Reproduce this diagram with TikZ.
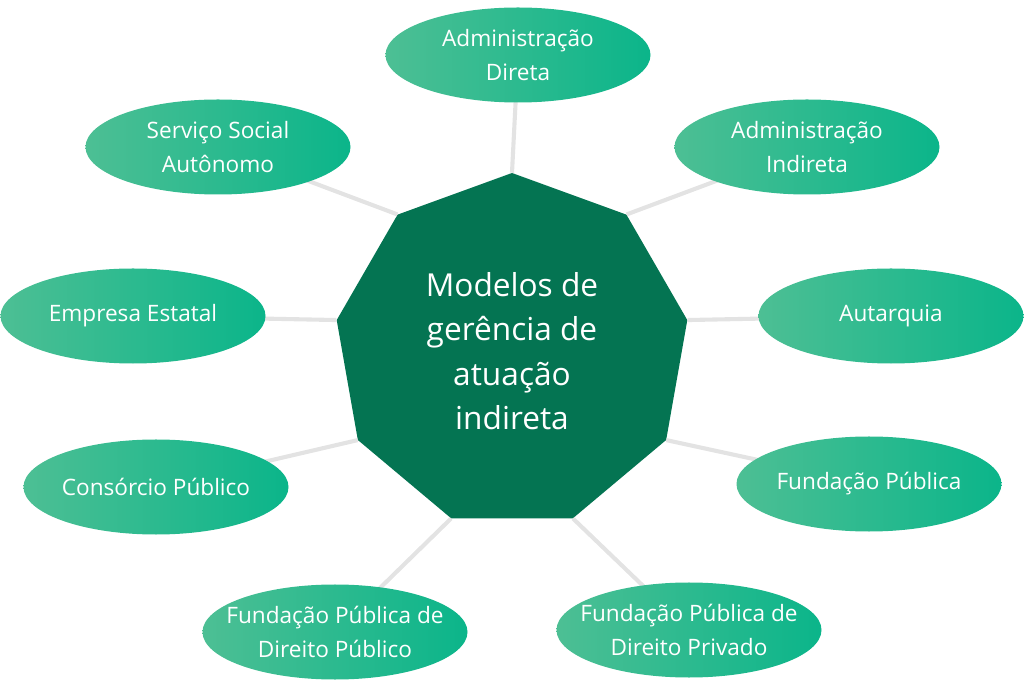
\documentclass[tikz,border=0pt]{standalone}
\usepackage{fontspec}
\setmainfont{Open Sans}
\usetikzlibrary{shapes.geometric}
\definecolor{hub}{HTML}{047452}
\definecolor{leafl}{HTML}{4DBF94}
\definecolor{leafr}{HTML}{0BB58A}
\definecolor{spoke}{HTML}{E3E3E3}
\begin{document}
\begin{tikzpicture}
    [x=0.03cm,y=-0.03cm,
     leaf/.style={ellipse,minimum width=7.95cm,minimum height=2.85cm,
       inner xsep=-30pt,inner ysep=0pt,
       left color=leafl,right color=leafr,draw=none,text=white,align=center,
       font=\fontsize{19.3}{29}\selectfont},
     spk/.style={draw=spoke,line width=3.5pt}]
    \useasboundingbox (0,0) rectangle (1024,683);
    \node (hub) at (512,351) [regular polygon,regular polygon sides=9,minimum size=10.68cm,
       inner sep=0pt,fill=hub,text=white,align=center,
       font=\fontsize{27}{38}\selectfont] {Modelos de\\gerência de\\atuação\\indireta};
    \coordinate (l1) at (518,55);
    \coordinate (l2) at (807,147);
    \coordinate (l3) at (891,316);
    \coordinate (l4) at (869,484);
    \coordinate (l5) at (689,630);
    \coordinate (l6) at (335,632);
    \coordinate (l7) at (156,487);
    \coordinate (l8) at (133,316);
    \coordinate (l9) at (218,147);
    \draw [spk] (hub.corner 1) to (l1);
    \draw [spk] (hub.corner 9) to (l2);
    \draw [spk] (hub.corner 8) to (l3);
    \draw [spk] (hub.corner 7) to (l4);
    \draw [spk] (hub.corner 6) to (l5);
    \draw [spk] (hub.corner 5) to (l6);
    \draw [spk] (hub.corner 4) to (l7);
    \draw [spk] (hub.corner 3) to (l8);
    \draw [spk] (hub.corner 2) to (l9);
    \node (admdir) at (l1) [leaf] {Administração\\Direta};
    \node (admind) at (l2) [leaf] {Administração\\Indireta};
    \node (autarq) at (l3) [leaf] {Autarquia};
    \node (fundpub) at (l4) [leaf] {Fundação Pública};
    \node (fundpriv) at (l5) [leaf] {Fundação Pública de\\Direito Privado};
    \node (funddpub) at (l6) [leaf] {Fundação Pública de\\Direito Público};
    \node (consorc) at (l7) [leaf] {Consórcio Público};
    \node (empresa) at (l8) [leaf] {Empresa Estatal};
    \node (servico) at (l9) [leaf] {Serviço Social\\Autônomo};
  \end{tikzpicture}
\end{document}
